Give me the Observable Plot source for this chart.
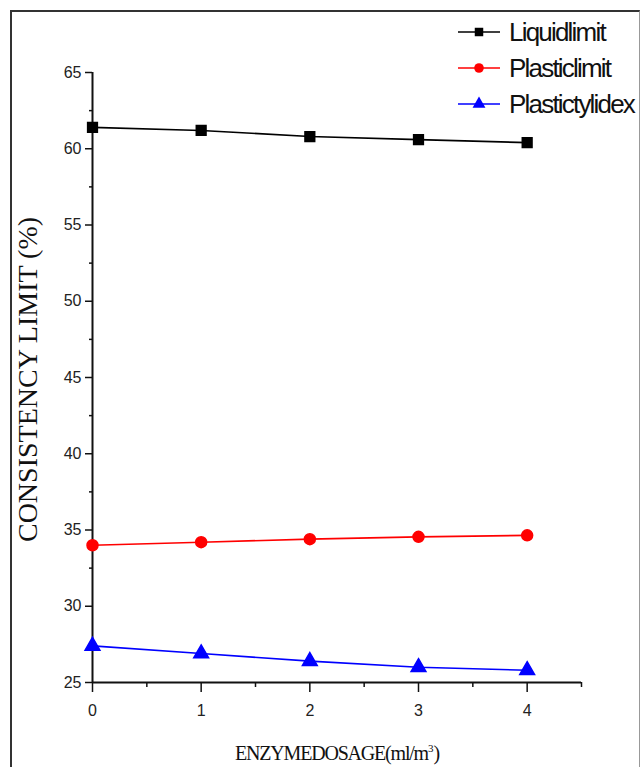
<!DOCTYPE html>
<html><head><meta charset="utf-8">
<script src="https://cdn.jsdelivr.net/npm/d3@7"></script>
<script src="https://cdn.jsdelivr.net/npm/@observablehq/plot@0.6"></script>
<style>
html,body{margin:0;padding:0;background:#fff;overflow:hidden;}
#wrap{position:relative;width:641px;height:767px;overflow:hidden;}
#frame{position:absolute;left:10px;top:10px;width:630px;height:800px;border-left:2px solid #333;border-top:2px solid #333;border-right:1px solid #999;box-sizing:border-box;pointer-events:none;}
#chart{position:absolute;left:0;top:0;}
#legend{position:absolute;left:456px;top:14px;font-family:"Liberation Sans",Arial,sans-serif;font-size:26px;letter-spacing:-1.8px;color:#111;}
#legend .row{display:flex;align-items:center;height:36px;white-space:nowrap;}
#legend svg{margin-right:7px;}
#xtitle{position:absolute;left:0;width:674px;top:742px;text-align:center;font-family:"Liberation Serif","Times New Roman",serif;font-size:20px;letter-spacing:-1.2px;color:#111;}
#xtitle sup{font-size:11px;letter-spacing:0;}
</style></head>
<body><div id="wrap"><div id="chart"></div><div id="frame"></div><div id="legend"></div><div id="xtitle"></div></div>
<script>
const dosage = [0, 1, 2, 3, 4];
const liquidLimit = [61.4, 61.2, 60.8, 60.6, 60.4];
const plasticLimit = [34.0, 34.2, 34.4, 34.55, 34.65];
const plasticityIndex = [27.4, 26.9, 26.4, 26.0, 25.8];
const seriesNames = ["Liquidlimit", "Plasticlimit", "Plastictylidex"];
const seriesColors = ["#000000", "#ff0000", "#0000ff"];
const seriesSymbols = ["square", "circle", "triangle"];
const yTicks = [25, 30, 35, 40, 45, 50, 55, 60, 65];
const yMinor = [27.5, 32.5, 37.5, 42.5, 47.5, 52.5, 57.5, 62.5];
const xTicks = [0, 1, 2, 3, 4];
const xMinor = [0.5, 1.5, 2.5, 3.5, 4.5];
const yLabel = "CONSISTENCY LIMIT (%)";
const xLabelMain = "ENZYMEDOSAGE(ml/m";
const xLabelSup = "3";

const allSeries = [liquidLimit, plasticLimit, plasticityIndex];
const rows = [];
allSeries.forEach((vals, s) => vals.forEach((v, i) => rows.push({x: dosage[i], y: v, s: seriesNames[s]})));

const plot = Plot.plot({
  width: 641, height: 767,
  marginLeft: 92, marginTop: 72, marginBottom: 85, marginRight: 60,
  x: {domain: [0, 4.5], axis: null},
  y: {domain: [25, 65], axis: null},
  color: {domain: seriesNames, range: seriesColors},
  symbol: {domain: seriesNames, range: seriesSymbols},
  style: {fontFamily: "'Liberation Sans', Arial, sans-serif", overflow: "visible"},
  marks: [
    Plot.axisY(yTicks, {tickSize: 7, tickPadding: 4, fontSize: 16, stroke: "#111", fill: "#222", strokeWidth: 1.5, tickFormat: d => d, label: null, letterSpacing: -1.2}),
    Plot.axisY(yMinor, {tickSize: 3, text: null, stroke: "#111", strokeWidth: 1.5, label: null}),
    Plot.axisX(xTicks, {tickSize: 10, tickPadding: 12, fontSize: 16, stroke: "#111", fill: "#222", strokeWidth: 1.5, label: null}),
    Plot.axisX(xMinor, {tickSize: 5, text: null, stroke: "#111", strokeWidth: 1.5, label: null}),
    Plot.ruleX([0], {stroke: "#111", strokeWidth: 2}),
    Plot.ruleY([25], {stroke: "#111", strokeWidth: 2}),
    Plot.line(rows, {x: "x", y: "y", z: "s", stroke: "s", strokeWidth: 1.6}),
    Plot.dot(rows, {x: "x", y: "y", symbol: "s", fill: "s", stroke: "s", r: 5.5}),
    Plot.text([yLabel], {frameAnchor: "left", textAnchor: "middle", rotate: -90, dx: -64, dy: 2, fontSize: 28, fontFamily: "'Liberation Serif','Times New Roman',serif", fill: "#111"})
  ]
});
document.getElementById("chart").appendChild(plot);

// legend
const leg = document.getElementById("legend");
seriesNames.forEach((name, i) => {
  const row = document.createElement("div");
  row.className = "row";
  const type = seriesSymbols[i] === "square" ? d3.symbolSquare : seriesSymbols[i] === "circle" ? d3.symbolCircle : d3.symbolTriangle;
  const sym = d3.symbol(type, 72)();
  row.innerHTML = `<svg width="46" height="20"><line x1="2" x2="44" y1="10" y2="10" stroke="${seriesColors[i]}" stroke-width="1.6"/><path d="${sym}" transform="translate(23,10)" fill="${seriesColors[i]}"/></svg><span>${name}</span>`;
  leg.appendChild(row);
});
document.getElementById("xtitle").innerHTML = `${xLabelMain}<sup>${xLabelSup}</sup>)`;
</script></body></html>
